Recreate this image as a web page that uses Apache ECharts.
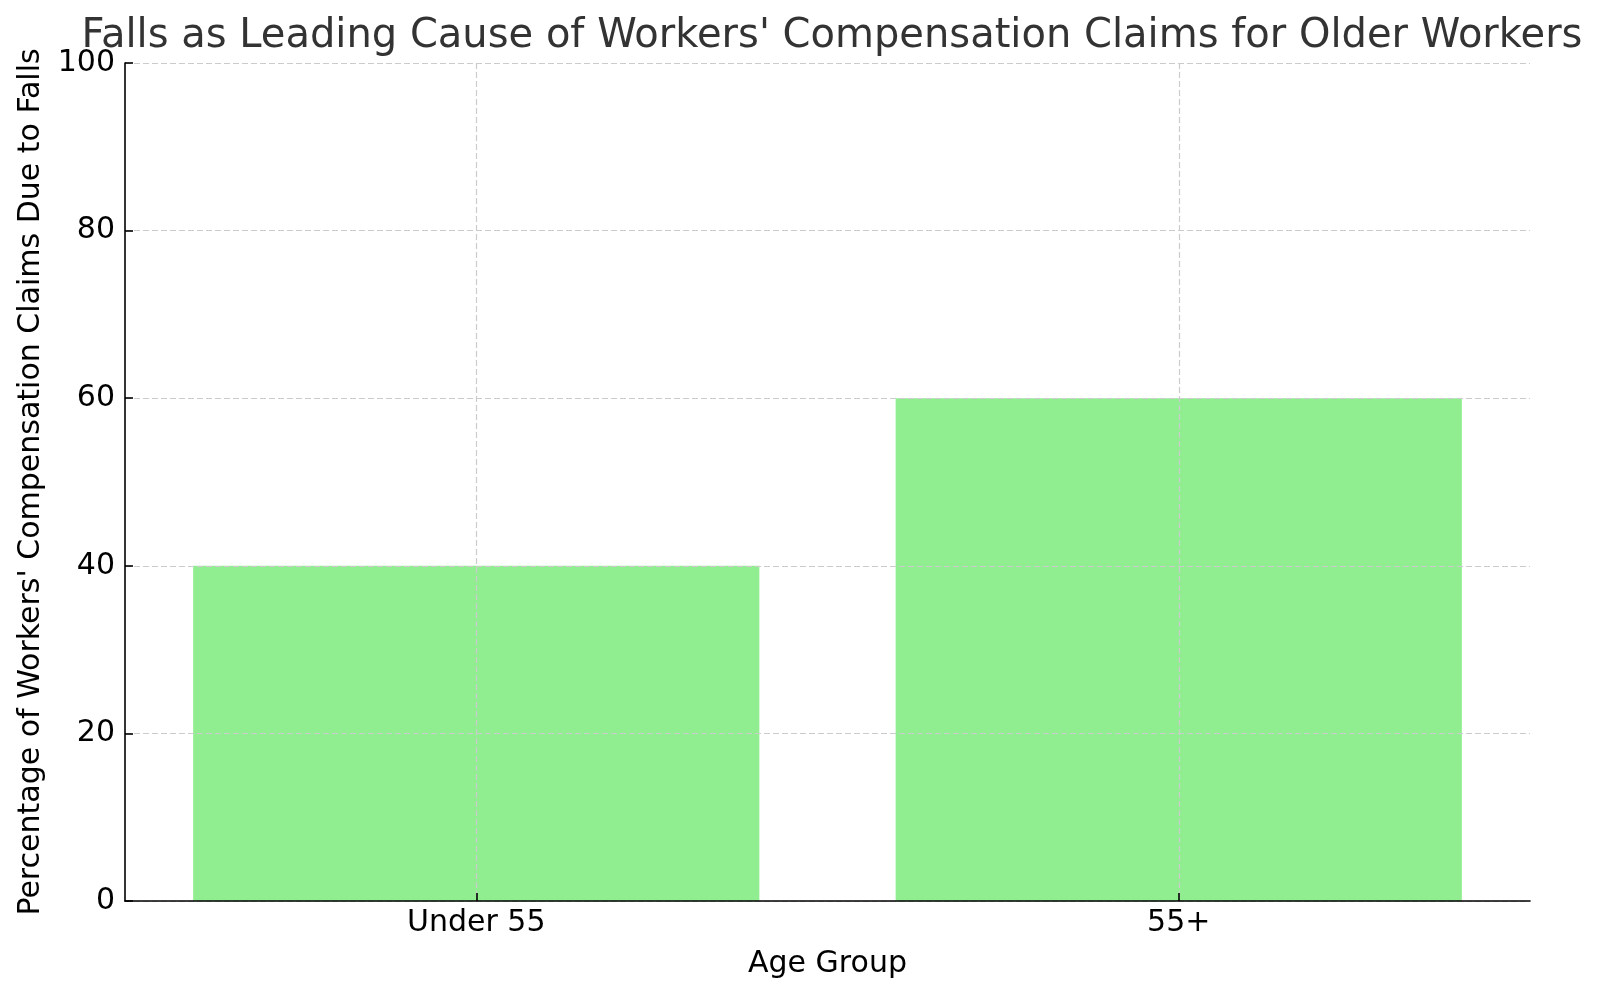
<!DOCTYPE html>
<html>
<head>
<meta charset="utf-8">
<script src="https://cdn.jsdelivr.net/npm/echarts@6/dist/echarts.min.js"></script>
<style>html,body{margin:0;padding:0;background:#fff}#c{width:1600px;height:998px}</style>
</head>
<body>
<div id="c"></div>
<script>
const categories = ['Under 55', '55+'];
const values = [40, 60];
const yTicks = [0, 20, 40, 60, 80, 100];

const chart = echarts.init(document.getElementById('c'), null, {renderer: 'canvas'});
const FONT = 'DejaVu Sans';
chart.setOption({
  animation: false,
  backgroundColor: '#ffffff',
  title: {
    text: "Falls as Leading Cause of Workers' Compensation Claims for Older Workers",
    left: 827, top: 12, textAlign: 'center',
    textStyle: {fontFamily: FONT, fontSize: 40, fontWeight: 'normal', color: '#333333'}
  },
  grid: {left: 125, right: 70, top: 63, bottom: 97, containLabel: false},
  xAxis: {
    type: 'category',
    data: categories,
    z: 5,
    name: 'Age Group',
    nameLocation: 'middle',
    nameGap: 48,
    nameTextStyle: {fontFamily: FONT, fontSize: 30, color: '#000'},
    axisLine: {show: true, lineStyle: {color: '#000', width: 1.6}},
    axisTick: {show: true, inside: true, alignWithLabel: true, length: 8, lineStyle: {color: '#000', width: 1.6}},
    axisLabel: {fontFamily: FONT, fontSize: 30, color: '#000', margin: 7},
    splitLine: {show: true, alignWithLabel: true, lineStyle: {color: '#cccccc', type: [6, 3], width: 1.2}}
  },
  yAxis: {
    type: 'value',
    min: yTicks[0], max: yTicks[yTicks.length - 1], interval: 20,
    z: 5,
    name: "Percentage of Workers' Compensation Claims Due to Falls",
    nameLocation: 'middle',
    nameGap: 79,
    nameRotate: 90,
    nameTextStyle: {fontFamily: FONT, fontSize: 30, color: '#000'},
    axisLine: {show: true, lineStyle: {color: '#000', width: 1.6}},
    axisTick: {show: true, inside: true, length: 8, lineStyle: {color: '#000', width: 1.6}},
    axisLabel: {fontFamily: FONT, fontSize: 30, color: '#000', margin: 10},
    splitLine: {show: true, lineStyle: {color: '#cccccc', type: [6, 3], width: 1.2}}
  },
  series: [{
    type: 'bar',
    data: values,
    barWidth: '80.6%',
    z: 1,
    itemStyle: {color: '#90EE90'}
  }]
});
</script>
</body>
</html>
